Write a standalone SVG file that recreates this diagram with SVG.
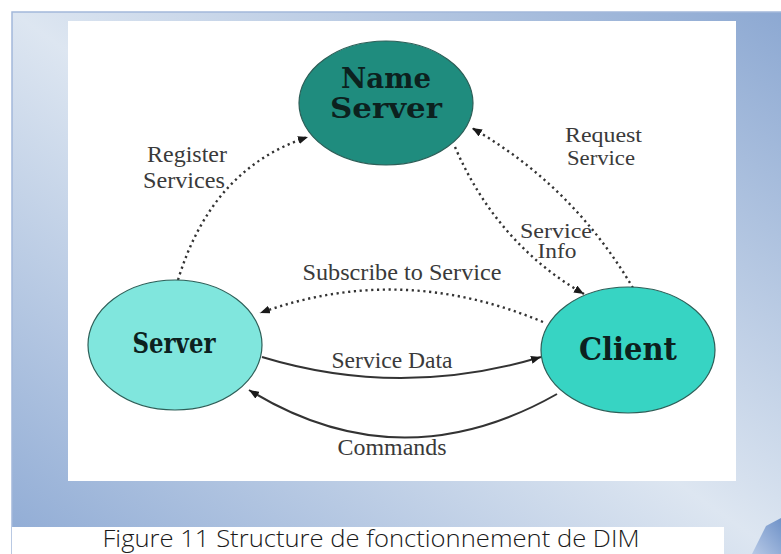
<svg xmlns="http://www.w3.org/2000/svg" width="781" height="554" viewBox="0 0 781 554">
<defs>
<linearGradient id="bg" x1="0" y1="1" x2="1" y2="0">
<stop offset="0" stop-color="#8eaad4"/>
<stop offset="0.5" stop-color="#dde6f1"/>
<stop offset="1" stop-color="#8ca8d2"/>
</linearGradient>
<linearGradient id="curl" x1="0" y1="1" x2="1" y2="0">
<stop offset="0" stop-color="#b7c9e6"/>
<stop offset="1" stop-color="#6f92c8"/>
</linearGradient>
<marker id="ah" viewBox="0 0 10 8" refX="10" refY="4" markerWidth="10" markerHeight="8" markerUnits="userSpaceOnUse" orient="auto">
<path d="M0,0 L10,4 L0,8 z" fill="#1a1a1a"/>
</marker>
<style>
.dot{fill:none;stroke:#333;stroke-width:2.4;stroke-dasharray:2.2 3.6;marker-end:url(#ah)}
.sol{fill:none;stroke:#333;stroke-width:2;marker-end:url(#ah)}
.lbl{font-family:"Liberation Serif","Times New Roman",serif;font-size:23px;fill:#3a3a3a}
.tight{font-size:20px}
.nd{stroke:#2d5f58;stroke-width:1.2}
.nt{font-family:"DejaVu Serif","Liberation Serif",serif;font-weight:bold;fill:#0c211e;text-anchor:middle}
</style>
</defs>
<rect x="0" y="0" width="781" height="554" fill="#ffffff"/>
<rect x="12" y="12" width="775" height="548" fill="url(#bg)" stroke="#a3b8da" stroke-width="1.5"/>
<rect x="68" y="21" width="668" height="460" fill="#ffffff"/>
<rect x="12" y="527" width="712" height="30" fill="#ffffff"/>
<text x="371" y="547" font-family="'Open Sans','Liberation Sans',sans-serif" font-weight="300" font-size="23" fill="#1a1a1a" text-anchor="middle" textLength="537" lengthAdjust="spacingAndGlyphs">Figure 11 Structure de fonctionnement de DIM</text>
<path d="M752,554 L766,526 L781,518 L781,554 z" fill="url(#curl)"/>
<g id="connectors">
<path class="dot" d="M178,280 Q212,168 308,137"/>
<path class="dot" d="M633,288 Q573,186 472,128"/>
<path class="dot" d="M455,147 Q497,244 584,294"/>
<path class="dot" d="M543,322 Q400,262 260,313"/>
<path class="sol" d="M262,357 Q400,399 541,357"/>
<path class="sol" d="M557,394 Q400,483 249,390"/>
</g>
<g id="labels">
<text class="lbl" x="187" y="162" text-anchor="middle" textLength="80" lengthAdjust="spacingAndGlyphs">Register</text>
<text class="lbl" x="184" y="188" text-anchor="middle" textLength="82" lengthAdjust="spacingAndGlyphs">Services</text>
<text class="lbl tight" x="565" y="142" textLength="77" lengthAdjust="spacingAndGlyphs">Request</text>
<text class="lbl tight" x="567" y="165" textLength="68" lengthAdjust="spacingAndGlyphs">Service</text>
<text class="lbl tight" x="556" y="238" text-anchor="middle" textLength="72" lengthAdjust="spacingAndGlyphs">Service</text>
<text class="lbl tight" x="557" y="258" text-anchor="middle" textLength="39" lengthAdjust="spacingAndGlyphs">Info</text>
<text class="lbl" x="402" y="280" text-anchor="middle" textLength="199" lengthAdjust="spacingAndGlyphs">Subscribe to Service</text>
<text class="lbl" x="392" y="368" text-anchor="middle" textLength="121" lengthAdjust="spacingAndGlyphs">Service Data</text>
<text class="lbl" x="392" y="455" text-anchor="middle" textLength="109" lengthAdjust="spacingAndGlyphs">Commands</text>
</g>
<g id="name-server">
<ellipse class="nd" cx="386" cy="103" rx="87" ry="62" fill="#1f8c7e"/>
<text class="nt" x="386" y="88" font-size="27" textLength="90" lengthAdjust="spacingAndGlyphs">Name</text>
<text class="nt" x="386" y="118" font-size="27" textLength="112" lengthAdjust="spacingAndGlyphs">Server</text>
</g>
<g id="server">
<ellipse class="nd" cx="175" cy="345" rx="87" ry="65" fill="#80e6dd"/>
<text class="nt" x="174" y="353" font-size="28" font-family="'Liberation Serif','Times New Roman',serif" textLength="83" lengthAdjust="spacingAndGlyphs">Server</text>
</g>
<g id="client">
<ellipse class="nd" cx="628" cy="350" rx="87" ry="63" fill="#37d4c3"/>
<text class="nt" x="628" y="360" font-size="31" textLength="98" lengthAdjust="spacingAndGlyphs">Client</text>
</g>
</svg>
